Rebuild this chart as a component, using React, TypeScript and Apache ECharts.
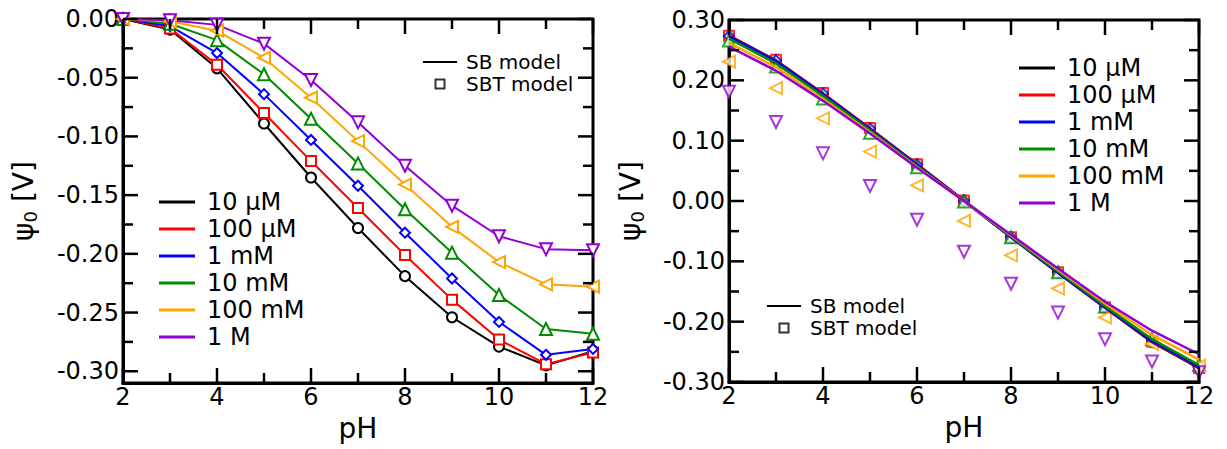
import React, { useEffect, useRef } from 'react';
import * as echarts from 'echarts';

// ---------- data ----------
const pH = [2, 3, 4, 5, 6, 7, 8, 9, 10, 11, 12];
const concentrations = ['10 µM', '100 µM', '1 mM', '10 mM', '100 mM', '1 M'];
const colors = ['#000000', '#ff0000', '#0000ff', '#008b00', '#ffa500', '#9400d3'];
const symbols = ['emptyCircle', 'emptyRect', 'emptyDiamond', 'emptyTriangle', 'emptyTriangle', 'emptyTriangle'];
const symbolRotations = [0, 0, 0, 0, 90, 180];
const modelNames = ['SB model', 'SBT model'];

// Left panel: surface potential psi0 [V]
const left10uM = [0, -0.009, -0.042, -0.089, -0.135, -0.178, -0.219, -0.254, -0.279, -0.295, -0.283];
const left100uM = [0, -0.008, -0.039, -0.080, -0.121, -0.161, -0.201, -0.239, -0.273, -0.294, -0.284];
const left1mM = [0, -0.006, -0.029, -0.064, -0.103, -0.142, -0.182, -0.221, -0.258, -0.286, -0.281];
const left10mM = [0, -0.004, -0.018, -0.047, -0.085, -0.123, -0.162, -0.199, -0.235, -0.264, -0.268];
const left100mM = [0, -0.002, -0.010, -0.033, -0.067, -0.104, -0.141, -0.177, -0.207, -0.226, -0.228];
const left1M = [0, -0.001, -0.005, -0.021, -0.052, -0.088, -0.125, -0.159, -0.185, -0.196, -0.197];

// Right panel: SB model (lines)
const sb10uM = [0.274, 0.233, 0.178, 0.120, 0.061, 0.001, -0.060, -0.119, -0.177, -0.234, -0.277];
const sb100uM = [0.274, 0.233, 0.178, 0.120, 0.061, 0.001, -0.060, -0.119, -0.177, -0.233, -0.276];
const sb1mM = [0.273, 0.232, 0.177, 0.119, 0.060, 0.000, -0.060, -0.119, -0.176, -0.232, -0.275];
const sb10mM = [0.269, 0.228, 0.174, 0.117, 0.058, 0.000, -0.059, -0.117, -0.174, -0.229, -0.272];
const sb100mM = [0.262, 0.222, 0.169, 0.114, 0.056, 0.000, -0.057, -0.114, -0.170, -0.222, -0.263];
const sb1M = [0.256, 0.216, 0.166, 0.112, 0.055, 0.000, -0.056, -0.112, -0.167, -0.215, -0.254];

// Right panel: SBT model (symbols)
const sbt10uM = [0.274, 0.234, 0.179, 0.121, 0.061, 0.001, -0.060, -0.118, -0.176, -0.234, -0.277];
const sbt100uM = [0.274, 0.234, 0.179, 0.121, 0.061, 0.001, -0.060, -0.118, -0.176, -0.233, -0.277];
const sbt1mM = [0.273, 0.233, 0.178, 0.120, 0.060, 0.000, -0.060, -0.118, -0.176, -0.232, -0.276];
const sbt10mM = [0.266, 0.223, 0.170, 0.113, 0.056, -0.001, -0.060, -0.118, -0.175, -0.229, -0.272];
const sbt100mM = [0.231, 0.187, 0.137, 0.082, 0.026, -0.033, -0.090, -0.145, -0.193, -0.237, -0.273];
const sbt1M = [0.181, 0.131, 0.079, 0.025, -0.031, -0.084, -0.137, -0.185, -0.229, -0.266, -0.284];

// Axis ranges and tick positions
const xRange = [2, 12];
const leftYRange = [-0.31, 0];
const rightYRange = [-0.3, 0.3];
const xMajorTicks = [2, 4, 6, 8, 10, 12];
const xMinorTicks = [3, 5, 7, 9, 11];
const leftYTicks = [0, -0.05, -0.1, -0.15, -0.2, -0.25, -0.3];
const leftYMinorTicks = [-0.025, -0.075, -0.125, -0.175, -0.225, -0.275];
const rightYTicks = [0.3, 0.2, 0.1, 0, -0.1, -0.2, -0.3];
const rightYMinorTicks = [0.25, 0.15, 0.05, -0.05, -0.15, -0.25];

const leftValues = [left10uM, left100uM, left1mM, left10mM, left100mM, left1M];
const sbValues = [sb10uM, sb100uM, sb1mM, sb10mM, sb100mM, sb1M];
const sbtValues = [sbt10uM, sbt100uM, sbt1mM, sbt10mM, sbt100mM, sbt1M];

// ---------- styling ----------
const FONT = "'DejaVu Sans', 'Liberation Sans', sans-serif";
const axisLine = { show: true, onZero: false, lineStyle: { color: '#000', width: 3 } };
const MAJOR_LEN = 15;
const MINOR_LEN = 10;
const TICK_WIDTH = 2.5;
const tickLabel = { fontSize: 24, color: '#000', fontFamily: FONT };

const fmt2 = (v: number) => (Math.abs(v) < 1e-9 ? 0 : v).toFixed(2);

const yName = '{p|ψ}{s|0}{p| [V]}';
const yNameStyle = {
  fontFamily: FONT,
  color: '#000',
  rich: {
    p: { fontSize: 28, fontFamily: FONT, color: '#000' },
    s: { fontSize: 18, fontFamily: FONT, color: '#000', padding: [14, 0, 0, 0] },
  },
};

// Inward ticks drawn as rectangular scatter symbols sitting on the frame, shifted into the plot
function tickScatter(axisIndex: number, yr: number[], yMaj: number[], yMin: number[]) {
  const data: any[] = [];
  const xTick = (v: number, len: number) => {
    data.push({ value: [v, yr[0]], symbolSize: [TICK_WIDTH, len], symbolOffset: [0, -len / 2] });
    data.push({ value: [v, yr[1]], symbolSize: [TICK_WIDTH, len], symbolOffset: [0, len / 2] });
  };
  const yTick = (v: number, len: number) => {
    data.push({ value: [xRange[0], v], symbolSize: [len, TICK_WIDTH], symbolOffset: [len / 2, 0] });
    data.push({ value: [xRange[1], v], symbolSize: [len, TICK_WIDTH], symbolOffset: [-len / 2, 0] });
  };
  xMajorTicks.forEach((v) => xTick(v, MAJOR_LEN));
  xMinorTicks.forEach((v) => xTick(v, MINOR_LEN));
  yMaj.forEach((v) => yTick(v, MAJOR_LEN));
  yMin.forEach((v) => yTick(v, MINOR_LEN));
  return {
    type: 'scatter',
    name: 'ticks',
    xAxisIndex: axisIndex,
    yAxisIndex: axisIndex,
    symbol: 'rect',
    silent: true,
    clip: false,
    z: 3,
    itemStyle: { color: '#000', borderWidth: 0, opacity: 1 },
    emphasis: { disabled: true },
    data,
  };
}

function buildOption() {
  const series: any[] = [];
  leftValues.forEach((vals, i) => {
    series.push({
      name: concentrations[i],
      type: 'line',
      xAxisIndex: 0,
      yAxisIndex: 0,
      data: pH.map((x, k) => [x, vals[k]]),
      symbol: symbols[i],
      symbolSize: i >= 3 ? 12 : 10,
      symbolRotate: symbolRotations[i],
      showSymbol: true,
      showAllSymbol: true,
      clip: false,
      lineStyle: { color: colors[i], width: 2 },
      itemStyle: { color: colors[i], borderWidth: 2 },
      emphasis: { disabled: true },
    });
  });
  sbValues.forEach((vals, i) => {
    series.push({
      name: concentrations[i],
      type: 'line',
      xAxisIndex: 1,
      yAxisIndex: 1,
      data: pH.map((x, k) => [x, vals[k]]),
      symbol: 'none',
      clip: false,
      lineStyle: { color: colors[i], width: 2.5 },
      itemStyle: { color: colors[i] },
      emphasis: { disabled: true },
    });
  });
  sbtValues.forEach((vals, i) => {
    series.push({
      name: concentrations[i] + ' (SBT)',
      type: 'scatter',
      xAxisIndex: 1,
      yAxisIndex: 1,
      data: pH.map((x, k) => [x, vals[k]]),
      symbol: symbols[i],
      symbolSize: i >= 3 ? 12 : 10,
      symbolRotate: symbolRotations[i],
      clip: false,
      itemStyle: { color: colors[i], borderWidth: 2 },
      emphasis: { disabled: true },
    });
  });
  series.push({
    name: modelNames[0],
    type: 'line',
    xAxisIndex: 0,
    yAxisIndex: 0,
    data: [],
    symbol: 'none',
    lineStyle: { color: '#000', width: 2 },
    itemStyle: { color: '#000' },
  });
  series.push({
    name: modelNames[1],
    type: 'scatter',
    xAxisIndex: 0,
    yAxisIndex: 0,
    data: [],
    symbol: 'emptyRect',
    itemStyle: { color: '#000' },
  });
  series.push(tickScatter(0, leftYRange, leftYTicks, leftYMinorTicks));
  series.push(tickScatter(1, rightYRange, rightYTicks, rightYMinorTicks));

  const concLegend = (left: number, top: number) => ({
    orient: 'vertical',
    left,
    top,
    padding: 0,
    itemWidth: 36,
    itemHeight: 3,
    itemGap: 3,
    selectedMode: false,
    data: concentrations.map((n, i) => ({
      name: n,
      icon: 'rect',
      itemStyle: { color: colors[i], borderWidth: 0 },
    })),
    textStyle: { fontSize: 24, lineHeight: 24, color: '#000', fontFamily: FONT, padding: [0, 0, 0, 7] },
  });

  const modelLegend = (left: number, top: number) => ({
    orient: 'vertical',
    left,
    top,
    padding: 0,
    itemWidth: 34,
    itemHeight: 11,
    itemGap: 2,
    selectedMode: false,
    symbolKeepAspect: true,
    data: [
      { name: modelNames[0], icon: 'path://M0 0H34V2.2H0Z', itemStyle: { color: '#000', borderWidth: 0 } },
      { name: modelNames[1], icon: 'path://M0 0H11V11H0Z M2 2V9H9V2Z', itemStyle: { color: '#000', borderWidth: 0 } },
    ],
    textStyle: { fontSize: 20, lineHeight: 19, color: '#000', fontFamily: FONT, padding: [0, 0, 0, 4] },
  });

  const xAxisFor = (g: number) => ({
    gridIndex: g,
    type: 'value',
    position: 'bottom',
    min: xRange[0],
    max: xRange[1],
    interval: 2,
    axisLine,
    axisTick: { show: false },
    axisLabel: { ...tickLabel, margin: 2 },
    splitLine: { show: false },
    name: 'pH',
    nameLocation: 'middle',
    nameGap: 31,
    nameTextStyle: { fontSize: 28, color: '#000', fontFamily: FONT },
  });
  const yAxisFor = (g: number, range: number[], majors: number[], nameGap: number) => ({
    gridIndex: g,
    type: 'value',
    position: 'left',
    min: range[0],
    max: range[1],
    axisLine,
    axisTick: { show: false },
    axisLabel: { ...tickLabel, margin: 4, customValues: majors, formatter: fmt2 },
    splitLine: { show: false },
    name: yName,
    nameLocation: 'middle',
    nameGap,
    nameTextStyle: yNameStyle,
  });

  return {
    animation: false,
    backgroundColor: '#fff',
    textStyle: { fontFamily: FONT },
    grid: [
      { left: 123, top: 19, width: 470, height: 364, show: true, borderColor: '#000', borderWidth: 3, backgroundColor: 'transparent' },
      { left: 729, top: 20, width: 470, height: 362, show: true, borderColor: '#000', borderWidth: 3, backgroundColor: 'transparent' },
    ],
    legend: [concLegend(159, 190), concLegend(1019, 56), modelLegend(423, 52), modelLegend(767, 296)],
    xAxis: [xAxisFor(0), xAxisFor(1)],
    yAxis: [yAxisFor(0, leftYRange, leftYTicks, 84), yAxisFor(1, rightYRange, rightYTicks, 83)],
    series,
  };
}

export default function App() {
  const ref = useRef<HTMLDivElement>(null);
  useEffect(() => {
    document.body.style.margin = '0';
    if (!ref.current) return;
    const chart = echarts.init(ref.current, undefined, { renderer: 'svg' });
    chart.setOption(buildOption() as any);
    return () => chart.dispose();
  }, []);
  return <div ref={ref} style={{ width: 1227, height: 449, background: '#fff' }} />;
}
